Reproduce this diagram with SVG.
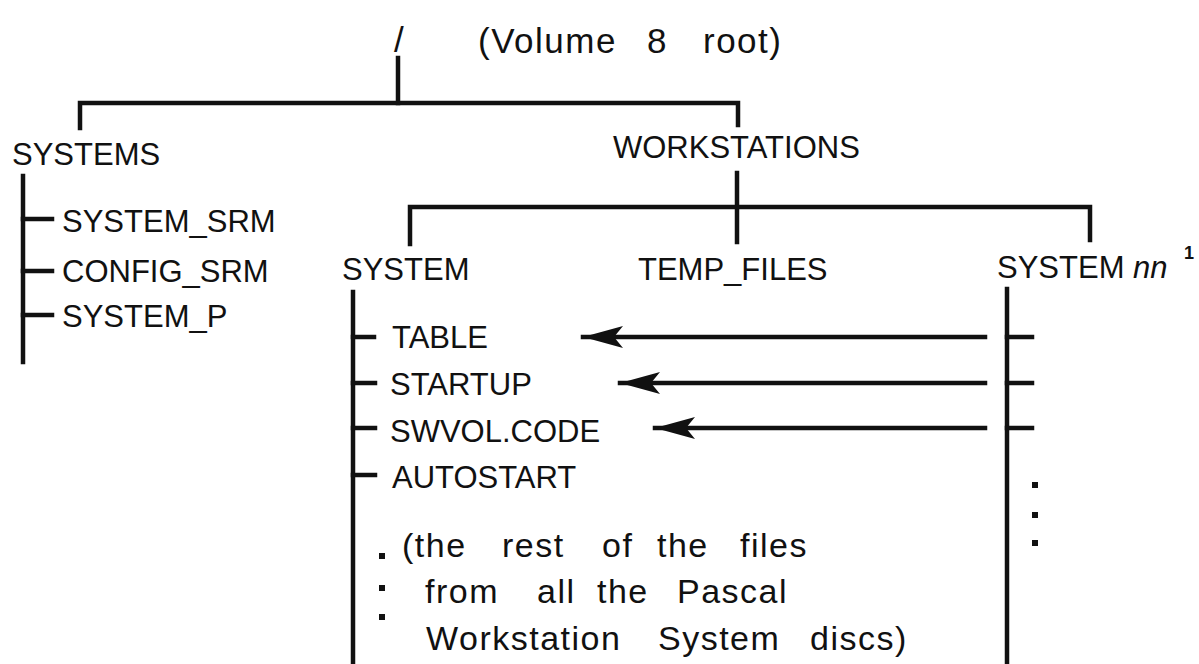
<svg xmlns="http://www.w3.org/2000/svg" width="1199" height="664" viewBox="0 0 1199 664">
<style>
text{font-family:"Liberation Sans",Arial,sans-serif;fill:#111}
.c{font-size:31px}
.l{font-size:34px;letter-spacing:1.5px}
.t{font-size:35px;letter-spacing:1.5px}
line,polyline{stroke:#111;stroke-width:4.5;fill:none;stroke-linecap:square}
.dot{fill:#111}
</style>
<defs>
<marker id="ah" markerWidth="44" markerHeight="28" refX="0" refY="14" orient="auto" markerUnits="userSpaceOnUse">
<path d="M0,14 L40,3 L31,14 L40,25 z" fill="#111"/>
</marker>
</defs>
<rect width="1199" height="664" fill="#fff"/>
<g id="connectors">
<line x1="398" y1="58" x2="398" y2="103"/>
<polyline points="80,128 80,103 738,103 738,125"/>
<line x1="23" y1="176" x2="23" y2="362"/>
<line x1="23" y1="219" x2="52" y2="219"/>
<line x1="23" y1="271" x2="52" y2="271"/>
<line x1="23" y1="315" x2="52" y2="315"/>
<line x1="737" y1="173" x2="737" y2="242"/>
<polyline points="410,244 410,207 1090,207 1090,240"/>
<line x1="353" y1="292" x2="353" y2="664"/>
<line x1="353" y1="337" x2="374" y2="337"/>
<line x1="353" y1="383" x2="375" y2="383"/>
<line x1="353" y1="428" x2="375" y2="428"/>
<line x1="353" y1="475" x2="375" y2="475"/>
<line x1="1007" y1="289" x2="1007" y2="664"/>
<line x1="1007" y1="337" x2="1032" y2="337"/>
<line x1="1007" y1="383" x2="1032" y2="383"/>
<line x1="1007" y1="428" x2="1032" y2="428"/>
<line x1="583" y1="337" x2="985" y2="337" marker-start="url(#ah)"/>
<line x1="620" y1="383" x2="985" y2="383" marker-start="url(#ah)"/>
<line x1="655" y1="428" x2="985" y2="428" marker-start="url(#ah)"/>
</g>
<g id="root">
<text class="t" x="394" y="52">/</text>
<text class="t" x="478" y="53">(Volume</text>
<text class="t" x="647" y="53">8</text>
<text class="t" x="703" y="53">root)</text>
</g>
<g id="systems">
<text class="c" x="12" y="165">SYSTEMS</text>
</g>
<g id="system_srm"><text class="c" x="62" y="232">SYSTEM_SRM</text></g>
<g id="config_srm"><text class="c" x="62" y="282">CONFIG_SRM</text></g>
<g id="system_p"><text class="c" x="62" y="327">SYSTEM_P</text></g>
<g id="workstations"><text class="c" x="613" y="158">WORKSTATIONS</text></g>
<g id="system"><text class="c" x="342" y="280">SYSTEM</text></g>
<g id="temp_files"><text class="c" x="638" y="280">TEMP_FILES</text></g>
<g id="system_nn">
<text class="c" x="997" y="278">SYSTEM <tspan font-style="italic">nn</tspan></text>
<text x="1184" y="259" font-size="18" font-weight="bold">1</text>
</g>
<g id="table"><text class="c" x="392" y="348">TABLE</text></g>
<g id="startup"><text class="c" x="390" y="395">STARTUP</text></g>
<g id="swvol"><text class="c" x="390" y="442">SWVOL.CODE</text></g>
<g id="autostart"><text class="c" x="392" y="488">AUTOSTART</text></g>
<g id="rest">
<rect class="dot" x="379" y="553" width="6" height="6"/>
<rect class="dot" x="379" y="585" width="6" height="6"/>
<rect class="dot" x="379" y="614" width="6" height="6"/>
<text class="l" y="557"><tspan x="402">(the</tspan> <tspan x="502">rest</tspan> <tspan x="602">of</tspan> <tspan x="657">the</tspan> <tspan x="740">files</tspan></text>
<text class="l" y="603"><tspan x="425">from</tspan> <tspan x="537">all</tspan> <tspan x="597">the</tspan> <tspan x="677">Pascal</tspan></text>
<text class="l" y="650"><tspan x="426">Workstation</tspan> <tspan x="658">System</tspan> <tspan x="810">discs)</tspan></text>
</g>
<g id="more">
<rect class="dot" x="1032" y="482" width="6" height="6"/>
<rect class="dot" x="1032" y="512" width="6" height="6"/>
<rect class="dot" x="1032" y="540" width="6" height="6"/>
</g>
</svg>
